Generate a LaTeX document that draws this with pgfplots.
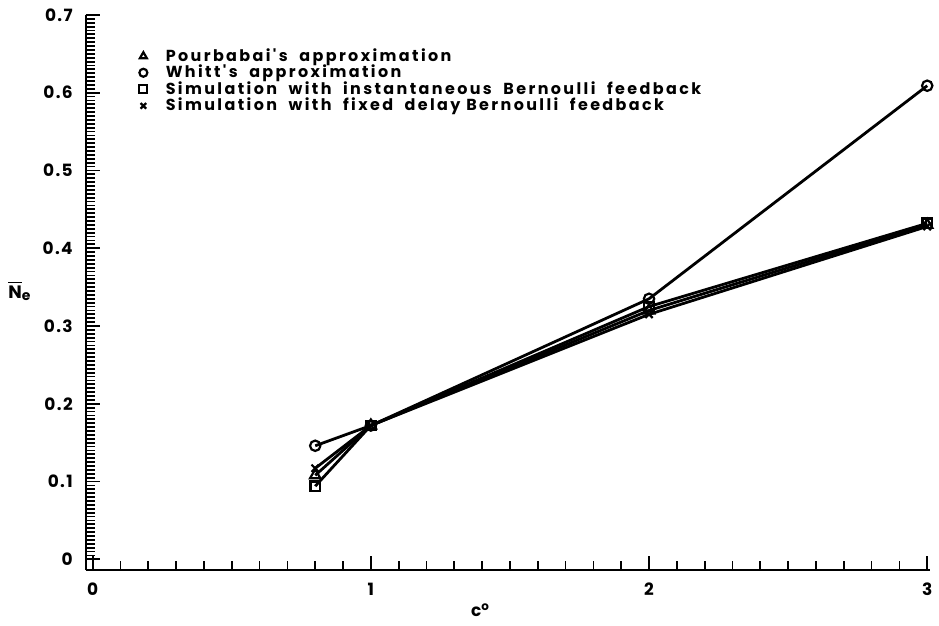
\documentclass[border=0pt]{standalone}
\usepackage{fontspec}
\setmainfont{Poppins}
\newfontfamily\plotfont[LetterSpace=8]{Poppins}
\newfontfamily\legendfont[LetterSpace=15]{Poppins}
\usepackage{pgfplots}
\pgfplotsset{compat=1.18}

% Mean number in the system versus the squared coefficient of variation
\pgfplotstableread{
x    y
0.8  0.108
1    0.172
2    0.320
3    0.430
}\pourbabai
\pgfplotstableread{
x    y
0.8  0.146
1    0.172
2    0.335
3    0.609
}\whitt
\pgfplotstableread{
x    y
0.8  0.094
1    0.172
2    0.325
3    0.432
}\siminst
\pgfplotstableread{
x    y
0.8  0.117
1    0.172
2    0.315
3    0.428
}\simdelay

\begin{document}
\begin{tikzpicture}
\begin{axis}[
  scale only axis,
  width=423.5pt, height=278.5pt,
  xmin=-0.025, xmax=3.01,
  ymin=-0.014, ymax=0.7,
  axis x line*=bottom,
  axis y line*=left,
  axis line style={line width=1.2pt},
  xtick={0,1,2,3},
  ytick={0,0.1,...,0.7},
  yticklabels={0,0.1,0.2,0.3,0.4,0.5,0.6,0.7},
  minor x tick num=9,
  minor y tick num=19,
  tick align=inside,
  major tick length=7pt,
  minor tick length=4.5pt,
  every tick/.style={black, line width=0.9pt},
  /pgf/number format/assume math mode=true,
  tick label style={font=\fontsize{8.5}{10}\selectfont\plotfont\bfseries},
  xticklabel style={yshift=-3pt},
  yticklabel style={xshift=-3pt},
  xlabel={c\textsuperscript{o}},
  xlabel style={at={(rel axis cs:0.4675,-0.072)}, anchor=center,
    font=\fontsize{8.5}{10}\selectfont\plotfont\bfseries},
  ylabel={$\overline{\mbox{\bfseries N}}_{\mbox{\bfseries\scriptsize e}}$},
  ylabel style={at={(rel axis cs:-0.078,0.503)}, rotate=-90, anchor=center,
    font=\fontsize{9}{10}\selectfont},
  legend style={draw=none, fill=none, at={(rel axis cs:0.056,0.955)},
    anchor=north west, row sep=-3.6pt,
    font=\fontsize{8}{9}\selectfont\legendfont\bfseries},
  legend cell align=left,
  legend image code/.code={\draw[#1, only marks, mark size=2pt] plot coordinates {(0.12cm,0cm)};
    \path (0.42cm,0cm);},
  every axis plot/.append style={line width=1.4pt, black},
]
\addplot[mark=triangle, mark size=3pt, mark options={fill=white, line width=1.1pt}] table {\pourbabai};
\addlegendentry{Pourbabai's\ \ approximation}
\addplot[mark=o, mark size=2.6pt, mark options={fill=white, line width=1.1pt}] table {\whitt};
\addlegendentry{Whitt's\ \ approximation}
\addplot[mark=square, mark size=2.4pt, mark options={fill=white, line width=1.1pt}] table {\siminst};
\addlegendentry{Simulation\ \ with\ \ instantaneous\ \ Bernoulli\ \ feedback}
\addplot[mark=x, mark size=2.6pt, mark options={line width=1.1pt}] table {\simdelay};
\addlegendentry{Simulation\ \ with\ \ fixed\ \ delay\ Bernoulli\ \ feedback}
\end{axis}
\useasboundingbox (-43pt,-28pt) rectangle (426.5pt,286pt);
\end{tikzpicture}
\end{document}
